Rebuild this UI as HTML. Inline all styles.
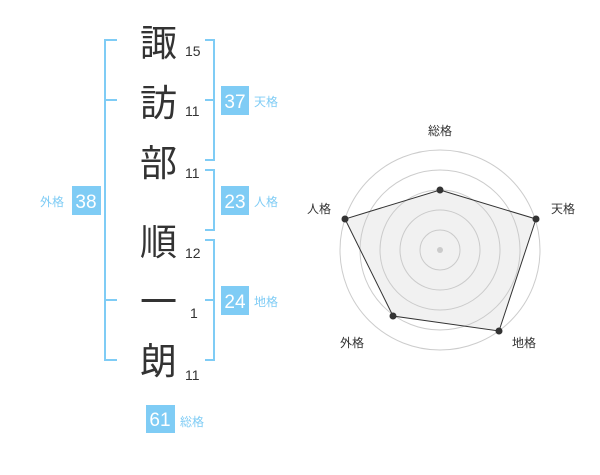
<!DOCTYPE html>
<html><head><meta charset="utf-8"><style>
body{margin:0;background:#fff;}
svg text{font-family:"Liberation Sans","Noto Sans CJK JP",sans-serif;}
</style></head><body>
<svg width="600" height="470" xmlns="http://www.w3.org/2000/svg">
<g stroke="#7fccf5" stroke-width="2" fill="none">
<path d="M117 40H105V360H117M105 100H117M105 300H117"/>
<path d="M205 40H214V160H205M214 100H205"/>
<path d="M205 170H214V230H205"/>
<path d="M205 240H214V360H205M214 300H205"/>
</g>
<g font-size="37" fill="#333">
<text x="140" y="56">諏</text>
<text x="140" y="116">訪</text>
<text x="140" y="176">部</text>
<text x="140" y="255">順</text>
<text x="140" y="315">一</text>
<text x="140" y="374">朗</text>
</g>
<g font-size="14" fill="#333">
<text x="185" y="56">15</text>
<text x="185" y="116">11</text>
<text x="185" y="178">11</text>
<text x="185" y="258">12</text>
<text x="190" y="318">1</text>
<text x="185" y="380">11</text>
</g>
<g fill="#7fccf5">
<rect x="221" y="86" width="28" height="29"/>
<rect x="221" y="186" width="28" height="29"/>
<rect x="221" y="286" width="28" height="29"/>
<rect x="72" y="186" width="29" height="29"/>
<rect x="146" y="405" width="29" height="28"/>
</g>
<g font-size="19" fill="#fff" text-anchor="middle">
<text x="235" y="108">37</text>
<text x="235" y="208">23</text>
<text x="235" y="308">24</text>
<text x="86" y="208">38</text>
<text x="160" y="426">61</text>
</g>
<g font-size="12" fill="#7fccf5">
<text x="254" y="106">天格</text>
<text x="254" y="206">人格</text>
<text x="254" y="306">地格</text>
<text x="40" y="206">外格</text>
<text x="180" y="426">総格</text>
</g>
<g fill="none" stroke="#ccc" stroke-width="1">
<circle cx="440" cy="250" r="20"/><circle cx="440" cy="250" r="40"/>
<circle cx="440" cy="250" r="60"/><circle cx="440" cy="250" r="80"/>
<circle cx="440" cy="250" r="100"/>
</g>
<circle cx="440" cy="250" r="3" fill="#ccc"/>
<polygon points="440,190 536,219 499,331 393,316 345,219" fill="rgba(200,200,200,0.25)" stroke="#333" stroke-width="1"/>
<g fill="#333">
<circle cx="440" cy="190" r="3.5"/><circle cx="536" cy="219" r="3.5"/>
<circle cx="499" cy="331" r="3.5"/><circle cx="393" cy="316" r="3.5"/>
<circle cx="345" cy="219" r="3.5"/>
</g>
<g font-size="12" fill="#333" text-anchor="middle">
<text x="440" y="135">総格</text>
<text x="563" y="213">天格</text>
<text x="319" y="213">人格</text>
<text x="352" y="347">外格</text>
<text x="524" y="347">地格</text>
</g>
</svg>
</body></html>
